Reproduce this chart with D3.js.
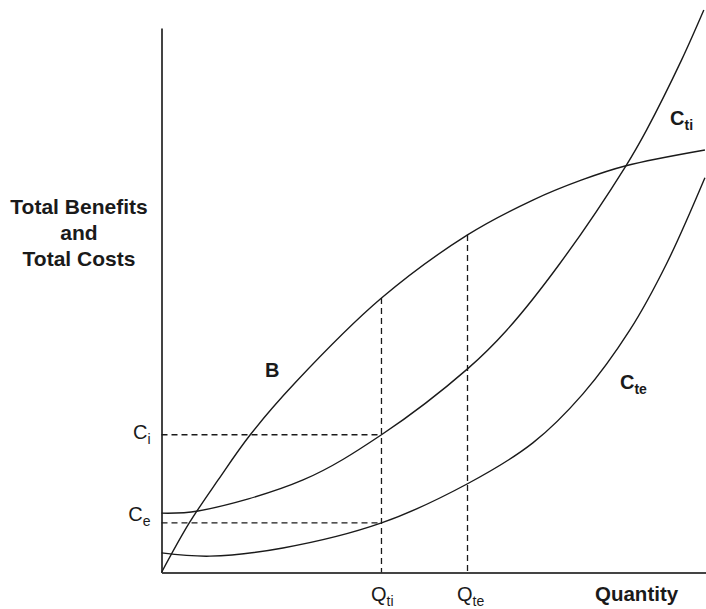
<!DOCTYPE html>
<html>
<head>
<meta charset="utf-8">
<script src="https://cdn.jsdelivr.net/npm/d3@7"></script>
<style>
  body { margin: 0; background: #fff; }
  svg text { font-family: "Liberation Sans", Arial, sans-serif; fill: #1a1a1a; }
  .axis path { stroke: #444; stroke-width: 2; }
  .curve { fill: none; stroke: #1a1a1a; stroke-width: 1.4; }
  .guide { stroke: #1a1a1a; stroke-width: 1.3; stroke-dasharray: 6,4; }
</style>
</head>
<body>
<div id="chart"></div>
<script>
// curves, quantity on x, benefits / costs on y (0..100 units)
var benefits = [[0,0],[5.1,9.1],[10.4,17.0],[16.3,25.3],[24.5,34.8],[40.4,50.4],
                [56.2,62.0],[68.2,68.4],[77.2,72.1],[85.3,74.7],[99.8,77.6]];
var costsTi = [[0,10.9],[6.7,11.3],[26.0,17.0],[40.4,25.3],[56.2,37.4],[63.4,44.5],
               [73.2,56.8],[85.3,74.7],[89.1,81.3],[95.5,94.1],[99.6,103.3]];
var costsTe = [[0,3.6],[8.9,3.0],[22.3,4.5],[40.4,9.1],[56.2,16.3],[68.2,23.8],
               [77.4,32.8],[86.0,44.5],[92.8,56.8],[99.8,72.5]];

var quantities = [{ main: "Q", sub: "ti", value: 40.4, top: 50.4 },
                  { main: "Q", sub: "te", value: 56.2, top: 62.0 }];
var costLevels = [{ main: "C", sub: "i", value: 25.3, to: 40.4 },
                  { main: "C", sub: "e", value: 9.1, to: 40.4 }];

var width = 706, height = 609;
var margin = { top: 28, left: 161.5, right: 0, bottom: 36.5 };

var svg = d3.select("#chart")
    .append("svg")
    .attr("width", width)
    .attr("height", height);

var x = d3.scaleLinear().domain([0, 100]).range([margin.left, width - margin.right]);
var y = d3.scaleLinear().domain([0, 100]).range([height - margin.bottom, margin.top]);

// axes without ticks
svg.append("g")
    .attr("class", "axis")
    .attr("transform", "translate(0," + y(0) + ")")
    .call(d3.axisBottom(x).tickValues([]).tickSizeOuter(0));

svg.append("g")
    .attr("class", "axis")
    .attr("transform", "translate(" + x(0) + ",0)")
    .call(d3.axisLeft(y).tickValues([]).tickSizeOuter(0));

// dashed guides
svg.selectAll(".hguide")
    .data(costLevels)
    .enter()
    .append("line")
    .attr("class", "guide")
    .attr("x1", x(0))
    .attr("x2", function(d) { return x(d.to); })
    .attr("y1", function(d) { return y(d.value); })
    .attr("y2", function(d) { return y(d.value); });

svg.selectAll(".vguide")
    .data(quantities)
    .enter()
    .append("line")
    .attr("class", "guide")
    .attr("x1", function(d) { return x(d.value); })
    .attr("x2", function(d) { return x(d.value); })
    .attr("y1", function(d) { return y(d.top); })
    .attr("y2", y(0));

// curves
var line = d3.line()
    .x(function(d) { return x(d[0]); })
    .y(function(d) { return y(d[1]); })
    .curve(d3.curveCatmullRom.alpha(0.5));

[benefits, costsTi, costsTe].forEach(function(c) {
    svg.append("path").attr("class", "curve").attr("d", line(c));
});

// text with a subscript
function label(px, py, main, sub, opts) {
    var t = svg.append("text")
        .attr("x", px)
        .attr("y", py)
        .attr("text-anchor", opts.anchor || "start")
        .style("font-size", opts.size + "px")
        .style("font-weight", opts.bold ? "bold" : "normal");
    t.append("tspan").text(main);
    if (sub) {
        t.append("tspan")
            .attr("dy", 5)
            .style("font-size", (opts.size * 0.7) + "px")
            .text(sub);
    }
}

quantities.forEach(function(d) {
    label(x(d.value) - 10.5, 601, d.main, d.sub, { size: 20 });
});

label(x(0) - 11, y(costLevels[0].value) + 4.5, "C", "i", { size: 20, anchor: "end" });
label(x(0) - 11, y(costLevels[1].value) - 2, "C", "e", { size: 20, anchor: "end" });

label(x(19.0), y(35.9), "B", null, { size: 20, bold: true });
label(x(93.4), y(82.2), "C", "ti", { size: 20, bold: true });
label(x(84.2), y(33.7), "C", "te", { size: 20, bold: true });

svg.append("text")
    .attr("x", 595)
    .attr("y", 601)
    .style("font-size", "20.5px")
    .style("font-weight", "bold")
    .text("Quantity");

svg.append("text")
    .attr("text-anchor", "middle")
    .style("font-size", "21px")
    .style("font-weight", "bold")
    .selectAll("tspan")
    .data(["Total Benefits", "and", "Total Costs"])
    .enter()
    .append("tspan")
    .attr("x", 79)
    .attr("y", function(d, i) { return 214 + i * 26; })
    .text(function(d) { return d; });
</script>
</body>
</html>
